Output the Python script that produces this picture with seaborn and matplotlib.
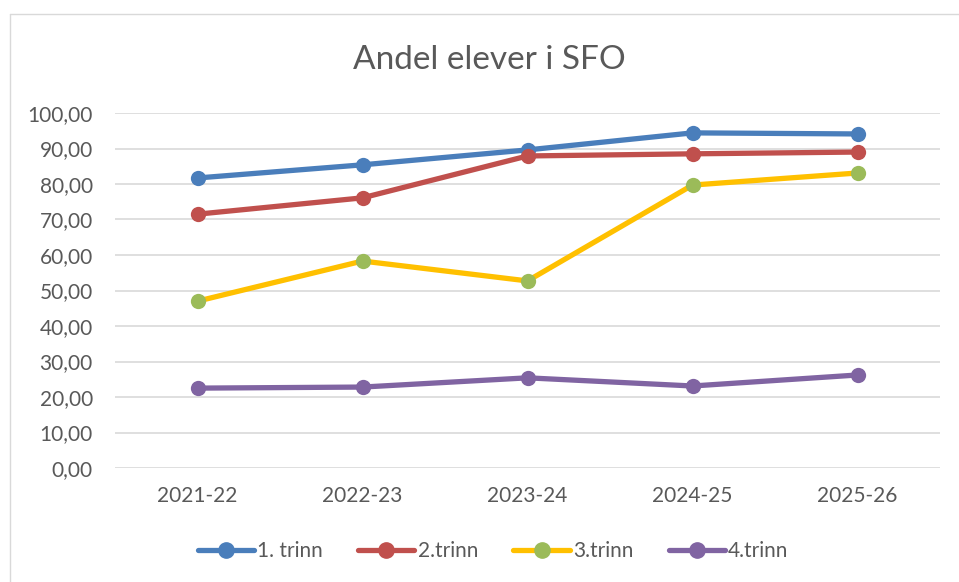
import matplotlib
matplotlib.use("Agg")
import matplotlib.pyplot as plt
from matplotlib.lines import Line2D
from matplotlib.ticker import FuncFormatter, MultipleLocator
import seaborn as sns
import pandas as pd

years = ["2021-22", "2022-23", "2023-24", "2024-25", "2025-26"]
series_names = ["1. trinn", "2.trinn", "3.trinn", "4.trinn"]
trinn1 = [81.7, 85.4, 89.6, 94.4, 94.1]
trinn2 = [71.5, 76.1, 87.9, 88.5, 89.0]
trinn3 = [47.0, 58.3, 52.7, 79.7, 83.1]
trinn4 = [22.5, 22.8, 25.4, 23.1, 26.2]

line_colors = ["#4A7EBB", "#C0504D", "#FFC000", "#8064A2"]
marker_colors = ["#4A7EBB", "#C0504D", "#9BBB59", "#8064A2"]

rows = []
for name, vals in zip(series_names, [trinn1, trinn2, trinn3, trinn4]):
    for y, v in zip(years, vals):
        rows.append({"year": y, "value": v, "series": name})
df = pd.DataFrame(rows)

sns.set_theme(style="white")
plt.rcParams["font.family"] = ["Lato", "DejaVu Sans"]
text_color = "#595959"

fig = plt.figure(figsize=(9.59, 5.82), dpi=100)
ax = fig.add_axes([115 / 959, 1 - 468 / 582, (940 - 115) / 959, (468 - 113) / 582])

sns.lineplot(data=df, x="year", y="value", hue="series", hue_order=series_names,
             palette=line_colors, marker="o", markersize=11, linewidth=3.8,
             markeredgewidth=0, sort=False, ax=ax, legend=False)

for ln, mc in zip(ax.lines, marker_colors):
    ln.set_markerfacecolor(mc)
    ln.set_markeredgecolor(mc)
    ln.set_solid_capstyle("round")

ax.set_ylim(0, 100)
ax.set_xlim(-0.5, len(years) - 0.5)
ax.yaxis.set_major_locator(MultipleLocator(10))
ax.yaxis.set_major_formatter(FuncFormatter(lambda v, p: f"{v:.2f}".replace(".", ",")))
ax.grid(axis="y", color="#D9D9D9", linewidth=1.2)
ax.set_axisbelow(True)
for s in ax.spines.values():
    s.set_visible(False)
ax.set_xlabel("")
ax.set_ylabel("")
ax.tick_params(axis="y", length=0, pad=16, labelsize=15, labelcolor=text_color)
ax.tick_params(axis="x", length=0, pad=13, labelsize=15, labelcolor=text_color)

fig.text(489 / 959, 1 - 60 / 582, "Andel elever i SFO", ha="center", va="center",
         fontsize=24, color=text_color)

handles = [Line2D([0], [0], color=lc, linewidth=3.8, marker="o", markersize=11,
                  markerfacecolor=mc, markeredgecolor=mc, solid_capstyle="round")
           for lc, mc in zip(line_colors, marker_colors)]
leg = fig.legend(handles, series_names, loc="center", bbox_to_anchor=(493 / 959, 1 - 551 / 582),
                 ncol=4, frameon=False, fontsize=15, handlelength=2.7, handletextpad=0.15,
                 columnspacing=1.7, labelcolor=text_color)

# chart frame (left and top borders)
fig.add_artist(Line2D([10 / 959, 10 / 959], [0, 1 - 14 / 582], transform=fig.transFigure,
                      color="#D9D9D9", linewidth=1))
fig.add_artist(Line2D([10 / 959, 1], [1 - 14 / 582, 1 - 14 / 582], transform=fig.transFigure,
                      color="#D9D9D9", linewidth=1))

fig.savefig("out.png", dpi=100, facecolor="white")
